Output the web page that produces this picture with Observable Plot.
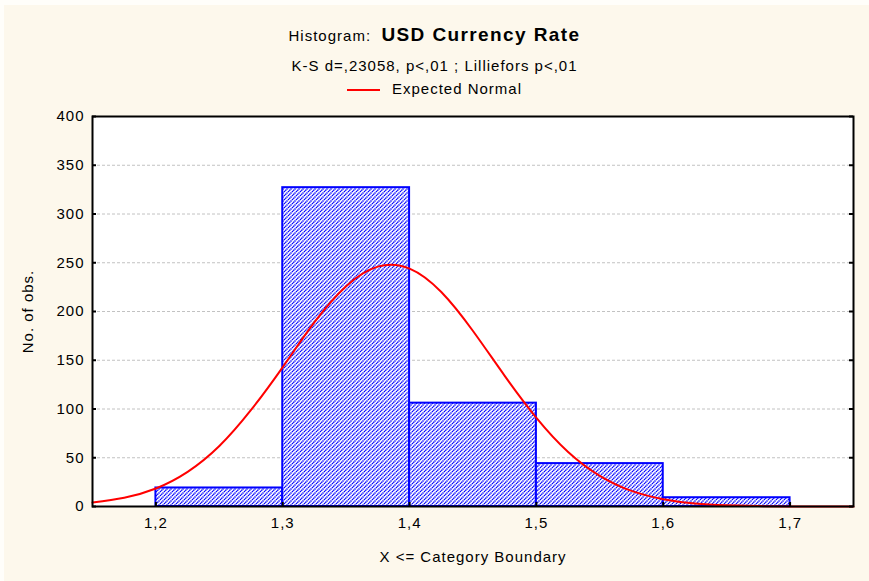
<!DOCTYPE html>
<html>
<head>
<meta charset="utf-8">
<script src="https://cdn.jsdelivr.net/npm/d3@7"></script>
<script src="https://cdn.jsdelivr.net/npm/@observablehq/plot@0.6"></script>
<style>
  html, body { margin: 0; padding: 0; background: #fffefa; }
  #page {
    position: relative; width: 869px; height: 581px; overflow: hidden;
    font-family: "Liberation Sans", Arial, sans-serif; color: #000; letter-spacing: 1px;
  }
  #panel { position: absolute; left: 4px; top: 5px; right: 0; bottom: 0; background: #fdf8ec; }
  .line { position: absolute; left: 0; width: 869px; text-align: center; white-space: nowrap; }
  #title { top: 24px; font-size: 15px; line-height: 22px; }
  #title b { font-size: 19px; letter-spacing: 1.4px; }
  #subtitle { top: 57px; font-size: 15px; line-height: 18px; }
  #legend { top: 80px; font-size: 15px; line-height: 18px; }
  .swatch { display: inline-block; width: 33px; height: 2px; background: #ff0000; vertical-align: middle; margin-right: 12px; }
  #chart { position: absolute; left: 0; top: 100px; }
</style>
</head>
<body>
<div id="page">
  <div id="panel"></div>
  <div class="line" id="title">Histogram:&nbsp;&nbsp;<b>USD Currency Rate</b></div>
  <div class="line" id="subtitle">K-S d=,23058, p&lt;,01 ; Lilliefors p&lt;,01</div>
  <div class="line" id="legend"><span class="swatch"></span>Expected Normal</div>
  <div id="chart"></div>
</div>
<script>
// Histogram bins (category boundaries) and observation counts
const binLower = [1.2, 1.3, 1.4, 1.5, 1.6];
const binUpper = [1.3, 1.4, 1.5, 1.6, 1.7];
const counts = [19, 327, 106, 44, 9];

// Expected normal curve, sampled along the x axis
const curveX = [1.15, 1.175, 1.2, 1.225, 1.25, 1.275, 1.3, 1.325, 1.35, 1.375, 1.4, 1.425, 1.45,
                1.475, 1.5, 1.525, 1.55, 1.575, 1.6, 1.625, 1.65, 1.675, 1.7, 1.725, 1.75];
const curveY = [4, 9, 18.5, 35.5, 62, 99, 143, 189, 226, 246, 244, 220, 180,
                134, 91, 56, 31.5, 16, 7.5, 3, 1.2, 0.4, 0.1, 0, 0];

// Axis ticks
const xTicks = [1.2, 1.3, 1.4, 1.5, 1.6, 1.7];
const yTicks = [0, 50, 100, 150, 200, 250, 300, 350, 400];

const bins = binLower.map((lo, i) => ({lo, hi: binUpper[i], count: counts[i]}));
const curve = curveX.map((x, i) => ({x, y: curveY[i]}));
const commaFormat = d => d.toFixed(1).replace(".", ",");

const W = 869, H = 481, ML = 92, MR = 16, MT = 16, MB = 75;
const innerW = W - ML - MR, innerH = H - MT - MB, tickLen = 4;

const chart = Plot.plot({
  width: W, height: H,
  marginLeft: ML, marginRight: MR, marginTop: MT, marginBottom: MB,
  style: "background:transparent;font-family:'Liberation Sans',Arial,sans-serif;font-size:15px;letter-spacing:1px;color:#000;overflow:visible;",
  x: {domain: [1.15, 1.75]},
  y: {domain: [0, 400]},
  marks: [
    Plot.frame({fill: "#ffffff"}),
    Plot.ruleY(yTicks.filter(v => v > 0 && v < 400), {stroke: "#c2c2c2", strokeDasharray: "3,2"}),
    Plot.rectY(bins, {x1: "lo", x2: "hi", y: "count", fill: "url(#hatch)", stroke: "#0000ff", strokeWidth: 2}),
    Plot.line(curve, {x: "x", y: "y", stroke: "#ff0000", strokeWidth: 2, curve: "natural"}),
    Plot.frame({stroke: "#000", strokeWidth: 2}),
    // inward tick marks on the left, right and bottom edges
    Plot.tickY(yTicks, {y: d => d, insetRight: innerW - tickLen, stroke: "#000", strokeWidth: 2}),
    Plot.tickY(yTicks, {y: d => d, insetLeft: innerW - tickLen, stroke: "#000", strokeWidth: 2}),
    Plot.tickX(xTicks, {x: d => d, insetTop: innerH - tickLen, stroke: "#000", strokeWidth: 2}),
    Plot.axisY({ticks: yTicks, tickSize: 0, tickPadding: 8, label: null}),
    Plot.axisX({ticks: xTicks, tickSize: 0, tickPadding: 11, label: null, tickFormat: commaFormat}),
    Plot.text(["No. of obs."], {text: d => d, frameAnchor: "left", textAnchor: "middle", rotate: -90, dx: -64}),
    Plot.text(["X <= Category Boundary"], {text: d => d, frameAnchor: "bottom", dy: 55})
  ]
});

// diagonal dotted blue hatch used to fill the bars
const pattern = d3.select(chart).insert("defs", ":first-child")
  .append("pattern")
  .attr("id", "hatch")
  .attr("width", 4).attr("height", 4)
  .attr("patternUnits", "userSpaceOnUse");
pattern.append("rect")
  .attr("width", 4).attr("height", 4)
  .style("fill", "#ffffff").style("stroke", "none");
pattern.append("path")
  .attr("d", "M-1,1L1,-1M0,4L4,0M3,5L5,3")
  .style("fill", "none")
  .style("stroke", "#0000ff")
  .style("stroke-width", "1.4px")
  .style("stroke-dasharray", "1.3,0.5");

document.getElementById("chart").appendChild(chart);
</script>
</body>
</html>
